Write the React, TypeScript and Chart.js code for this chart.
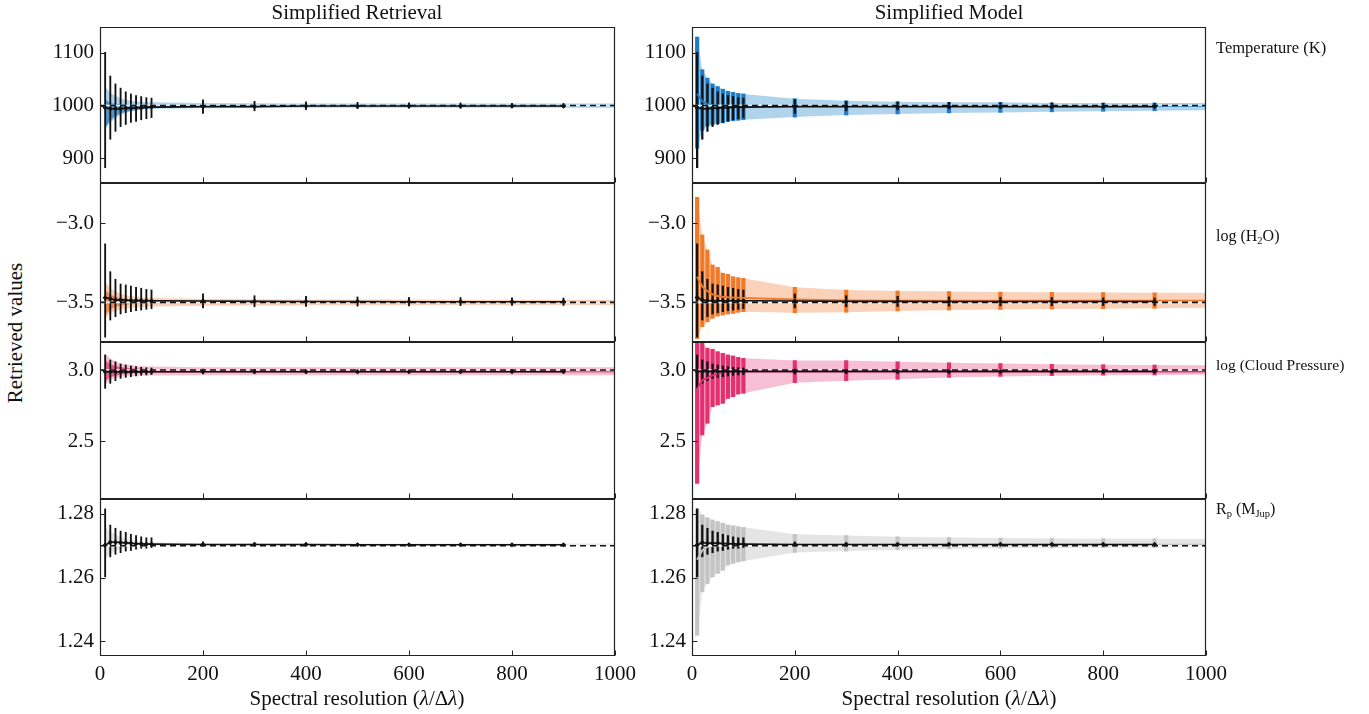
import React, { useEffect, useRef } from "react";
import { Chart, registerables } from "chart.js";

Chart.register(...registerables);

const FONT = "'Liberation Serif', 'DejaVu Serif', 'Times New Roman', serif";

// ---------------- data ----------------
const resolutions = [10, 20, 30, 40, 50, 60, 70, 80, 90, 100, 200, 300, 400, 500, 600, 700, 800, 900];
const bandResolutions = [...resolutions, 1000];
const xTicks = [0, 200, 400, 600, 800, 1000];

// Temperature (K)
const tempTruth = 1000;
const tempRetMed = [996, 994, 994, 994, 995, 995, 996, 996, 997, 997, 998, 998, 999, 999, 999, 999, 999, 999];
const tempRetLo = [882, 936, 951, 960, 964, 968, 970, 973, 975, 977, 985, 990, 992, 994, 995, 995, 996, 996];
const tempRetHi = [1101, 1056, 1041, 1033, 1026, 1022, 1019, 1017, 1015, 1014, 1011, 1008, 1007, 1006, 1005, 1005, 1004, 1004];
const tempRetBandLo = [956, 968, 976, 982, 986, 988, 990, 992, 993, 994, 995, 995.5, 996, 996, 996, 996, 996, 996, 996];
const tempRetBandHi = [1036, 1024, 1018, 1014, 1011, 1009, 1008, 1007, 1006, 1006, 1005, 1004.5, 1004, 1004, 1004, 1004, 1004, 1004, 1004];
const tempRetCoreLo = [958, 972, 980, 985, 988, 990, 992, 993, 994, 995, 997, 998, 998, 998, 998.5, 998.5, 998.5, 998.5, 998.5];
const tempRetCoreHi = [1012, 1005, 1003, 1002, 1002, 1001.5, 1001.5, 1001, 1001, 1001, 1001, 1001, 1001, 1001, 1001, 1001, 1001, 1001, 1001];
const tempModMed = [996, 994, 994, 995, 995, 996, 996, 997, 997, 997, 998, 998, 998, 998, 998, 998, 998, 998];
const tempModLo = [919, 953, 961, 964, 966, 967, 970, 971, 972, 973, 978, 982, 984, 986, 987, 988, 989, 990, 991];
const tempModHi = [1130, 1068, 1052, 1041, 1036, 1031, 1027, 1025, 1023, 1022, 1013, 1009, 1007, 1006, 1006, 1005, 1005, 1005, 1005];
const tempModCurve = [1022, 1008, 1003, 1000, 999, 999, 999, 999, 999, 999, 999, 999, 999, 999, 999, 999, 999, 999, 999];
const tempTicks = [900, 1000, 1100];

// log(H2O)
const h2oTruth = -3.5;
const h2oRetMed = [-3.471, -3.477, -3.485, -3.485, -3.487, -3.488, -3.489, -3.489, -3.49, -3.49, -3.492, -3.494, -3.495, -3.495, -3.496, -3.496, -3.496, -3.496];
const h2oRetLo = [-3.72, -3.612, -3.591, -3.574, -3.566, -3.559, -3.553, -3.549, -3.544, -3.54, -3.535, -3.528, -3.526, -3.524, -3.522, -3.521, -3.52, -3.52];
const h2oRetHi = [-3.13, -3.306, -3.354, -3.384, -3.39, -3.397, -3.405, -3.411, -3.418, -3.422, -3.447, -3.458, -3.462, -3.466, -3.468, -3.47, -3.472, -3.473];
const h2oRetBandLo = [-3.6, -3.57, -3.555, -3.545, -3.54, -3.535, -3.532, -3.53, -3.528, -3.526, -3.522, -3.52, -3.518, -3.518, -3.518, -3.517, -3.517, -3.517, -3.517];
const h2oRetBandHi = [-3.37, -3.41, -3.43, -3.445, -3.455, -3.46, -3.465, -3.468, -3.47, -3.472, -3.478, -3.48, -3.482, -3.482, -3.482, -3.483, -3.483, -3.483, -3.483];
const h2oRetCoreLo = [-3.58, -3.545, -3.53, -3.52, -3.515, -3.512, -3.51, -3.508, -3.507, -3.506, -3.504, -3.503, -3.503, -3.503, -3.503, -3.503, -3.503, -3.503, -3.503];
const h2oRetCoreHi = [-3.42, -3.45, -3.465, -3.472, -3.477, -3.48, -3.482, -3.484, -3.485, -3.486, -3.49, -3.492, -3.492, -3.492, -3.492, -3.492, -3.492, -3.492, -3.492];
const h2oModMed = [-3.47, -3.485, -3.49, -3.49, -3.49, -3.49, -3.49, -3.49, -3.49, -3.49, -3.492, -3.494, -3.494, -3.495, -3.495, -3.495, -3.495, -3.495];
const h2oModLo = [-3.73, -3.654, -3.623, -3.601, -3.587, -3.58, -3.574, -3.57, -3.563, -3.559, -3.566, -3.563, -3.555, -3.549, -3.545, -3.542, -3.54, -3.538, -3.535];
const h2oModHi = [-2.835, -3.074, -3.169, -3.264, -3.279, -3.316, -3.323, -3.338, -3.344, -3.348, -3.405, -3.422, -3.428, -3.432, -3.435, -3.437, -3.438, -3.44, -3.44];
const h2oModCurve = [-3.338, -3.4, -3.43, -3.45, -3.46, -3.465, -3.468, -3.47, -3.471, -3.472, -3.482, -3.488, -3.49, -3.49, -3.49, -3.49, -3.49, -3.49, -3.49];
const h2oTicks = [-3.5, -3.0];

// log(Cloud Pressure)
const cloudTruth = 3.0;
const cloudRetMed = [2.988, 2.988, 2.988, 2.988, 2.988, 2.988, 2.988, 2.988, 2.988, 2.988, 2.988, 2.988, 2.988, 2.988, 2.988, 2.988, 2.988, 2.988];
const cloudRetLo = [2.871, 2.906, 2.925, 2.941, 2.948, 2.953, 2.958, 2.963, 2.965, 2.968, 2.972, 2.975, 2.977, 2.978, 2.979, 2.979, 2.98, 2.98];
const cloudRetHi = [3.106, 3.07, 3.058, 3.042, 3.035, 3.028, 3.024, 3.019, 3.016, 3.014, 3.006, 3.003, 3.0, 2.999, 2.998, 2.998, 2.997, 2.997];
const cloudRetBandLo = [2.894, 2.93, 2.945, 2.952, 2.956, 2.958, 2.96, 2.961, 2.962, 2.962, 2.963, 2.963, 2.963, 2.963, 2.963, 2.963, 2.963, 2.963, 2.963];
const cloudRetBandHi = [3.113, 3.08, 3.06, 3.048, 3.04, 3.035, 3.03, 3.027, 3.025, 3.024, 3.02, 3.019, 3.019, 3.019, 3.019, 3.019, 3.019, 3.019, 3.019];
const cloudRetCoreLo = [2.92, 2.95, 2.96, 2.968, 2.972, 2.975, 2.977, 2.978, 2.979, 2.98, 2.982, 2.983, 2.983, 2.983, 2.983, 2.983, 2.983, 2.983, 2.983];
const cloudRetCoreHi = [3.07, 3.04, 3.03, 3.02, 3.015, 3.012, 3.01, 3.008, 3.007, 3.006, 3.002, 3.0, 3.0, 3.0, 3.0, 3.0, 3.0, 3.0, 3.0];
const cloudModMed = [2.99, 2.99, 2.99, 2.99, 2.99, 2.99, 2.99, 2.99, 2.99, 2.99, 2.99, 2.99, 2.99, 2.99, 2.99, 2.99, 2.99, 2.99];
const cloudModLo = [2.202, 2.542, 2.625, 2.742, 2.754, 2.765, 2.8, 2.812, 2.831, 2.836, 2.911, 2.925, 2.934, 2.948, 2.955, 2.96, 2.963, 2.965, 2.966];
const cloudModHi = [3.25, 3.188, 3.153, 3.146, 3.129, 3.117, 3.106, 3.099, 3.089, 3.082, 3.066, 3.066, 3.058, 3.051, 3.045, 3.04, 3.037, 3.035, 3.034];
const cloudModCurve = [2.865, 2.93, 2.945, 2.962, 2.975, 2.98, 2.985, 2.988, 2.99, 2.99, 2.99, 2.99, 2.99, 2.99, 2.99, 2.99, 2.99, 2.99, 2.99];
const cloudTicks = [2.5, 3.0];

// Rp (MJup)
const rpTruth = 1.27;
const rpRetMed = [1.2702, 1.2711, 1.2711, 1.271, 1.2709, 1.2708, 1.2706, 1.2706, 1.2705, 1.2705, 1.2704, 1.2704, 1.2704, 1.2703, 1.2703, 1.2703, 1.2703, 1.2703];
const rpRetLo = [1.2602, 1.2665, 1.2673, 1.2678, 1.2683, 1.2685, 1.2689, 1.2692, 1.2692, 1.2694, 1.2699, 1.2701, 1.2701, 1.2701, 1.2701, 1.2702, 1.2702, 1.2702];
const rpRetHi = [1.2816, 1.2765, 1.2755, 1.2746, 1.2742, 1.2736, 1.2732, 1.2728, 1.2725, 1.2725, 1.2712, 1.2709, 1.2708, 1.2707, 1.2706, 1.2706, 1.2705, 1.2705];
const rpRetBandLo = [1.266, 1.2675, 1.2685, 1.269, 1.2693, 1.2695, 1.2697, 1.2698, 1.2699, 1.2699, 1.27, 1.27, 1.27, 1.27, 1.27, 1.27, 1.27, 1.27, 1.27];
const rpRetBandHi = [1.276, 1.2745, 1.2735, 1.2728, 1.2722, 1.2718, 1.2715, 1.2713, 1.2712, 1.2711, 1.2708, 1.2707, 1.2707, 1.2707, 1.2707, 1.2707, 1.2707, 1.2707, 1.2707];
const rpModMed = [1.2702, 1.271, 1.2708, 1.2708, 1.2708, 1.2707, 1.2706, 1.2706, 1.2705, 1.2705, 1.2704, 1.2704, 1.2704, 1.2704, 1.2704, 1.2704, 1.2704, 1.2704];
const rpModLo = [1.2418, 1.2555, 1.2581, 1.2602, 1.2613, 1.2623, 1.2639, 1.2644, 1.2649, 1.2652, 1.2679, 1.2683, 1.2687, 1.269, 1.2692, 1.2693, 1.2694, 1.2694, 1.2695];
const rpModHi = [1.2816, 1.2797, 1.2788, 1.2781, 1.2776, 1.2771, 1.2765, 1.2763, 1.276, 1.2758, 1.2736, 1.2732, 1.2728, 1.2726, 1.2724, 1.2723, 1.2722, 1.2722, 1.2721];
const rpModCurve = [1.2656, 1.2685, 1.2697, 1.27, 1.2702, 1.2703, 1.2703, 1.2703, 1.2703, 1.2703, 1.2703, 1.2703, 1.2703, 1.2703, 1.2703, 1.2703, 1.2703, 1.2703, 1.2703];
const rpTicks = [1.24, 1.26, 1.28];

// ---------------- layout / style ----------------
const COLS = [
  { x0: 100, x1: 615 },
  { x0: 692, x1: 1206 },
];
const ROWS = [
  { y0: 27, y1: 183, min: 853, max: 1149, ticks: tempTicks, dec: 0 },
  { y0: 183, y1: 342, min: -3.751, max: -2.745, ticks: h2oTicks, dec: 1 },
  { y0: 342, y1: 499, min: 2.092, max: 3.197, ticks: cloudTicks, dec: 1 },
  { y0: 499, y1: 656, min: 1.2353, max: 1.2847, ticks: rpTicks, dec: 2 },
];
const Y_AXIS_W = 72;
const PAD_T = 24;
const PAD_R = 34;
const PAD_B = 24;
const X_AXIS_H = 34;

const PALETTE = [
  { line: "#1f7cc4", fill: "rgba(40,135,205,0.36)", core: "rgba(20,105,180,0.6)" },
  { line: "#f07a2a", fill: "rgba(242,130,60,0.36)", core: "rgba(228,100,30,0.6)" },
  { line: "#e3306f", fill: "rgba(232,60,120,0.33)", core: "rgba(215,30,95,0.6)" },
  { line: "#c4c4c4", fill: "rgba(180,180,180,0.35)", core: "rgba(160,160,160,0.35)" },
];

type PanelData = {
  truth: number;
  med: number[];
  lo: number[];
  hi: number[];
  bandLo: number[];
  bandHi: number[];
  coreLo?: number[];
  coreHi?: number[];
  curve?: number[];
  model: boolean;
};

const PANELS: PanelData[][] = [
  [
    { truth: tempTruth, med: tempRetMed, lo: tempRetLo, hi: tempRetHi, bandLo: tempRetBandLo, bandHi: tempRetBandHi, coreLo: tempRetCoreLo, coreHi: tempRetCoreHi, model: false },
    { truth: tempTruth, med: tempModMed, lo: tempRetLo, hi: tempRetHi, bandLo: tempModLo, bandHi: tempModHi, curve: tempModCurve, model: true },
  ],
  [
    { truth: h2oTruth, med: h2oRetMed, lo: h2oRetLo, hi: h2oRetHi, bandLo: h2oRetBandLo, bandHi: h2oRetBandHi, coreLo: h2oRetCoreLo, coreHi: h2oRetCoreHi, model: false },
    { truth: h2oTruth, med: h2oModMed, lo: h2oRetLo, hi: h2oRetHi, bandLo: h2oModLo, bandHi: h2oModHi, curve: h2oModCurve, model: true },
  ],
  [
    { truth: cloudTruth, med: cloudRetMed, lo: cloudRetLo, hi: cloudRetHi, bandLo: cloudRetBandLo, bandHi: cloudRetBandHi, coreLo: cloudRetCoreLo, coreHi: cloudRetCoreHi, model: false },
    { truth: cloudTruth, med: cloudModMed, lo: cloudRetLo, hi: cloudRetHi, bandLo: cloudModLo, bandHi: cloudModHi, curve: cloudModCurve, model: true },
  ],
  [
    { truth: rpTruth, med: rpRetMed, lo: rpRetLo, hi: rpRetHi, bandLo: rpRetBandLo, bandHi: rpRetBandHi, model: false },
    { truth: rpTruth, med: rpModMed, lo: rpRetLo, hi: rpRetHi, bandLo: rpModLo, bandHi: rpModHi, curve: rpModCurve, model: true },
  ],
];

const pts = (xs: number[], ys: number[]) => xs.map((x, i) => ({ x, y: ys[i] }));
const bars = (xs: number[], lo: number[], hi: number[]) => xs.map((x, i) => ({ x, y: [lo[i], hi[i]] }));

function buildDatasets(p: PanelData, row: number): any[] {
  const c = PALETTE[row];
  const ds: any[] = [];
  const lineBase = { type: "line", pointRadius: 0, tension: 0, spanGaps: true };
  ds.push({ ...lineBase, data: pts(bandResolutions, p.bandHi), borderWidth: 0, borderColor: "rgba(0,0,0,0)", backgroundColor: c.fill, fill: "+1", order: 8 });
  ds.push({ ...lineBase, data: pts(bandResolutions, p.bandLo), borderWidth: 0, borderColor: "rgba(0,0,0,0)", fill: false, order: 8 });
  if (p.coreLo && p.coreHi) {
    ds.push({ ...lineBase, data: pts(bandResolutions, p.coreHi), borderWidth: 0, borderColor: "rgba(0,0,0,0)", backgroundColor: c.core, fill: "+1", order: 7 });
    ds.push({ ...lineBase, data: pts(bandResolutions, p.coreLo), borderWidth: 0, borderColor: "rgba(0,0,0,0)", fill: false, order: 7 });
  }
  if (p.model) {
    ds.push({ type: "bar", data: bars(resolutions, p.bandLo, p.bandHi), backgroundColor: c.line, borderWidth: 0, barThickness: 3.5, grouped: false, order: 6 });
  }
  ds.push({ type: "bar", data: bars(resolutions, p.lo, p.hi), backgroundColor: "#111", borderWidth: 0, barThickness: p.model ? 1.6 : 1.2, grouped: false, order: 5 });
  if (p.curve) {
    ds.push({ ...lineBase, data: pts(bandResolutions, p.curve), borderWidth: 2, borderColor: c.line, fill: false, order: 4 });
  }
  ds.push({ ...lineBase, data: pts([0, 1000], [p.truth, p.truth]), borderWidth: 1.6, borderColor: "rgba(255,255,255,0.9)", fill: false, order: 3 });
  ds.push({ ...lineBase, data: pts(resolutions, p.med), borderWidth: 1.6, borderColor: "#111", pointRadius: 2.6, pointStyle: "rectRot", pointBackgroundColor: "#111", pointBorderWidth: 0, fill: false, order: 2 });
  ds.push({ ...lineBase, data: pts([0, 1000], [p.truth, p.truth]), borderWidth: 1.6, borderColor: "#111", borderDash: [6, 4], fill: false, order: 1 });
  return ds;
}

const frameTicks = {
  id: "frameTicks",
  afterDatasetsDraw(chart: any) {
    const { ctx, chartArea: a, scales } = chart;
    ctx.save();
    ctx.strokeStyle = "#222";
    ctx.lineWidth = 1.2;
    ctx.beginPath();
    const L = a.left + 0.5, R = a.right - 0.5, T = a.top + 0.5, B = a.bottom - 0.5;
    ctx.rect(L, T, R - L, B - T);
    ctx.stroke();
    ctx.beginPath();
    ctx.lineWidth = 1;
    for (const t of scales.y.ticks) {
      const py = Math.round(scales.y.getPixelForValue(t.value)) + 0.5;
      ctx.moveTo(L, py);
      ctx.lineTo(L + 5, py);
    }
    for (const t of scales.x.ticks) {
      const px = Math.round(scales.x.getPixelForValue(t.value)) + 0.5;
      ctx.moveTo(px, B);
      ctx.lineTo(px, B - 5);
    }
    ctx.stroke();
    ctx.restore();
  },
};

function fmt(v: number, dec: number) {
  return v.toFixed(dec).replace("-", "\u2212");
}

export default function App() {
  const refs = useRef<(HTMLCanvasElement | null)[]>([]);

  useEffect(() => {
    const charts: Chart[] = [];
    ROWS.forEach((row, r) => {
      COLS.forEach((col, c) => {
        const canvas = refs.current[r * 2 + c];
        if (!canvas) return;
        const bottom = r === ROWS.length - 1;
        const chart = new Chart(canvas, {
          type: "line",
          data: { datasets: buildDatasets(PANELS[r][c], r) },
          options: {
            animation: false,
            responsive: false,
            events: [],
            layout: { padding: { left: 0, top: PAD_T, right: PAD_R, bottom: PAD_B } },
            plugins: { legend: { display: false }, tooltip: { enabled: false }, title: { display: false } },
            scales: {
              x: {
                type: "linear",
                min: 0,
                max: 1000,
                offset: false,
                grid: { display: false, drawTicks: false },
                border: { display: false },
                afterBuildTicks: (s: any) => {
                  s.ticks = xTicks.map((v) => ({ value: v }));
                },
                ticks: {
                  display: bottom,
                  padding: 6,
                  maxRotation: 0,
                  autoSkip: false,
                  color: "#111",
                  font: { family: FONT, size: 21 },
                  callback: (v: any) => String(v),
                },
                afterFit: (s: any) => {
                  s.height = bottom ? X_AXIS_H : 0;
                },
              },
              y: {
                type: "linear",
                min: row.min,
                max: row.max,
                grid: { display: false, drawTicks: false },
                border: { display: false },
                afterBuildTicks: (s: any) => {
                  s.ticks = row.ticks.map((v) => ({ value: v }));
                },
                ticks: {
                  padding: 6,
                  autoSkip: false,
                  color: "#111",
                  font: { family: FONT, size: 21 },
                  callback: (v: any) => fmt(Number(v), row.dec),
                },
                afterFit: (s: any) => {
                  s.width = Y_AXIS_W;
                },
              },
            },
          } as any,
          plugins: [frameTicks as any],
        });
        charts.push(chart);
      });
    });
    return () => charts.forEach((ch) => ch.destroy());
  }, []);

  const text = (content: React.ReactNode, x: number, y: number, size: number, extra: React.CSSProperties = {}) => (
    <div
      style={{
        position: "absolute",
        left: x,
        top: y,
        transform: "translate(-50%, -50%)",
        fontSize: size,
        lineHeight: 1,
        whiteSpace: "nowrap",
        color: "#111",
        ...extra,
      }}
    >
      {content}
    </div>
  );
  const subStyle: React.CSSProperties = { fontSize: 10.5, verticalAlign: "-3px" };
  const rightLabel = (content: React.ReactNode, y: number, size: number) => (
    <div style={{ position: "absolute", left: 1216, top: y, transform: "translateY(-50%)", fontSize: size, lineHeight: 1, whiteSpace: "nowrap", color: "#111" }}>
      {content}
    </div>
  );

  return (
    <div style={{ position: "absolute", left: 0, top: 0, width: 1369, height: 714, background: "#fff", fontFamily: FONT, overflow: "hidden" }}>
      {ROWS.map((row, r) =>
        COLS.map((col, c) => {
          const bottom = r === ROWS.length - 1;
          const w = Y_AXIS_W + (col.x1 - col.x0) + PAD_R;
          const h = PAD_T + (row.y1 - row.y0) + (bottom ? X_AXIS_H : 0) + PAD_B;
          return (
            <canvas
              key={`${r}-${c}`}
              ref={(el) => {
                refs.current[r * 2 + c] = el;
              }}
              width={w}
              height={h}
              style={{ position: "absolute", left: col.x0 - Y_AXIS_W, top: row.y0 - PAD_T, width: w, height: h }}
            />
          );
        })
      )}
      {text("Simplified Retrieval", 357, 12, 21)}
      {text("Simplified Model", 949, 12, 21)}
      {text("Retrieved values", 15, 333, 21, { transform: "translate(-50%, -50%) rotate(-90deg)" })}
      {text(<span>Spectral resolution (<i>λ</i>/Δ<i>λ</i>)</span>, 357, 698, 21)}
      {text(<span>Spectral resolution (<i>λ</i>/Δ<i>λ</i>)</span>, 949, 698, 21)}
      {rightLabel("Temperature (K)", 48, 16.5)}
      {rightLabel(<span>log (H<sub style={subStyle}>2</sub>O)</span>, 237, 16)}
      {rightLabel("log (Cloud Pressure)", 365, 15.5)}
      {rightLabel(<span>R<sub style={subStyle}>p</sub> (M<sub style={subStyle}>Jup</sub>)</span>, 510, 16)}
    </div>
  );
}
